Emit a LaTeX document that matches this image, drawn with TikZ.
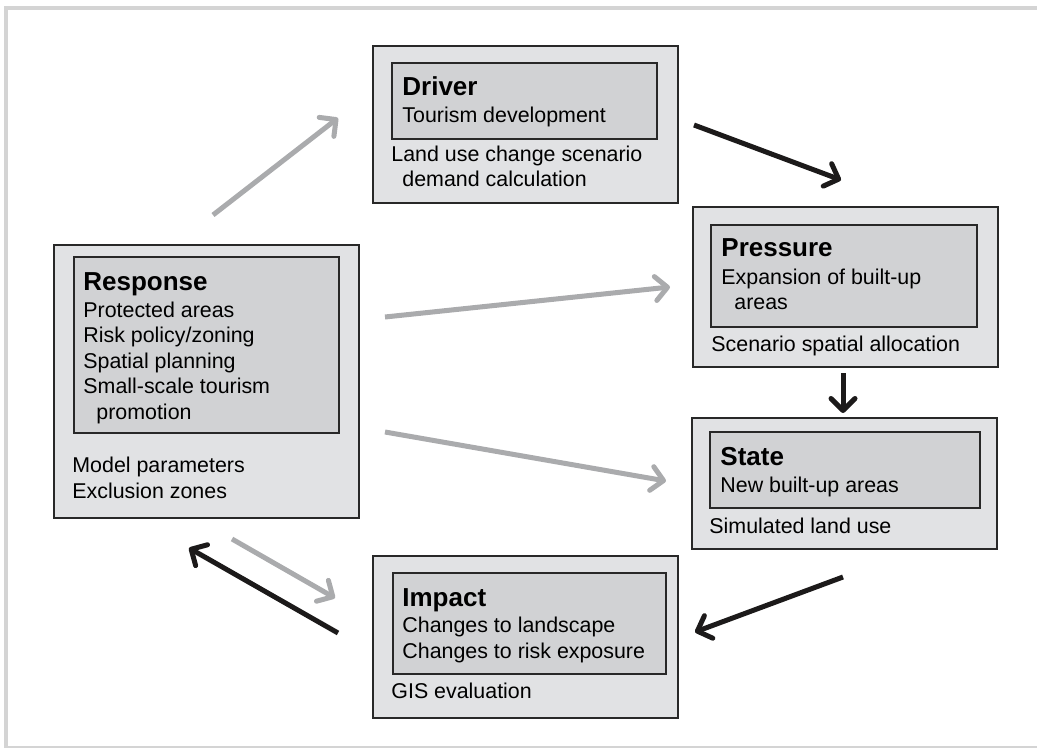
\documentclass[tikz,border=0pt]{standalone}
\usepackage{fontspec}
\setmainfont{Liberation Sans}
\usetikzlibrary{positioning,arrows.meta}

\definecolor{outerfill}{RGB}{225,226,228}
\definecolor{innerfill}{RGB}{209,210,212}
\definecolor{boxline}{RGB}{40,40,40}
\definecolor{arrowdark}{RGB}{28,26,26}
\definecolor{arrowlight}{RGB}{170,171,173}
\definecolor{framegray}{RGB}{212,212,212}

\tikzset{
    outerbox/.style={draw=boxline, line width=1pt, fill=outerfill, anchor=north west, inner sep=0pt},
    innerbox/.style={draw=boxline, line width=1pt, fill=innerfill, anchor=north west, inner sep=0pt},
    boxtitle/.style={font=\fontsize{13}{15.6}\selectfont\bfseries, anchor=base west, inner sep=0pt},
    boxtext/.style={font=\fontsize{10.7}{12.7}\selectfont, align=left, anchor=base west, inner sep=0pt},
    darkarrow/.style={line width=2.5pt, draw=arrowdark, -{Straight Barb[length=6pt,width=12pt,round]}},
    lightarrow/.style={darkarrow, draw=arrowlight},
}

\begin{document}
\begin{tikzpicture}[x=0.5pt, y=-0.5pt]
    \useasboundingbox (0,0) rectangle (1037,748);
    \draw[framegray, line width=2pt] (6,748) -- (6,8) -- (1037,8);
    \draw[framegray, line width=1.5pt] (6,747) -- (1037,747);

    \node[outerbox, minimum width=152.5pt, minimum height=78.5pt] (driver) at (372,45) {};
    \node[innerbox, minimum width=132.5pt, minimum height=38pt] (driverIn) at (391,62) {};
    \node[boxtitle] (driverTitle) at (402,96) {Driver};
    \node[boxtext] (driverText) at (402,123) {Tourism development};
    \node[boxtext] (driverFoot) at (391,187) {Land use change scenario\\\hspace*{5.5pt}demand calculation};

    \node[outerbox, minimum width=152.5pt, minimum height=80pt] (pressure) at (692,206) {};
    \node[innerbox, minimum width=133pt, minimum height=51pt] (pressureIn) at (710,224) {};
    \node[boxtitle] (pressureTitle) at (721,257) {Pressure};
    \node[boxtext] (pressureText) at (721,310) {Expansion of built-up\\\hspace*{6.5pt}areas};
    \node[boxtext] (pressureFoot) at (711,351) {Scenario spatial allocation};

    \node[outerbox, minimum width=152.5pt, minimum height=65.5pt] (state) at (691,417) {};
    \node[innerbox, minimum width=135pt, minimum height=38pt] (stateIn) at (709,431) {};
    \node[boxtitle] (stateTitle) at (720,465) {State};
    \node[boxtext] (stateText) at (720,492) {New built-up areas};
    \node[boxtext] (stateFoot) at (709,533) {Simulated land use};

    \node[outerbox, minimum width=152.5pt, minimum height=81pt] (impact) at (372,555) {};
    \node[innerbox, minimum width=136.5pt, minimum height=50.5pt] (impactIn) at (392,572) {};
    \node[boxtitle] (impactTitle) at (402,606) {Impact};
    \node[boxtext] (impactText) at (402,658) {Changes to landscape\\Changes to risk exposure};
    \node[boxtext] (impactFoot) at (391,698) {GIS evaluation};

    \node[outerbox, minimum width=152.5pt, minimum height=136.5pt] (response) at (53,244) {};
    \node[innerbox, minimum width=132.5pt, minimum height=88pt] (responseIn) at (73,256) {};
    \node[boxtitle] (responseTitle) at (83,291) {Response};
    \node[boxtext] (responseText) at (83,419) {Protected areas\\Risk policy/zoning\\Spatial planning\\Small-scale tourism\\\hspace*{6.5pt}promotion};
    \node[boxtext] (responseFoot) at (72,498) {Model parameters\\Exclusion zones};

    \coordinate (r2dA) at (213,215);
    \coordinate (r2dB) at (338,118);
    \coordinate (d2pA) at (694,125);
    \coordinate (d2pB) at (841,180);
    \coordinate (r2pA) at (385,317);
    \coordinate (r2pB) at (670,287);
    \coordinate (p2sA) at (843,373);
    \coordinate (p2sB) at (843,413);
    \coordinate (r2sA) at (385,432);
    \coordinate (r2sB) at (666,481);
    \coordinate (s2iA) at (843,577);
    \coordinate (s2iB) at (695,632);
    \coordinate (r2iA) at (232,539);
    \coordinate (r2iB) at (335,598);
    \coordinate (i2rA) at (338,633);
    \coordinate (i2rB) at (189,548);

    \draw[lightarrow] (r2dA) -- (r2dB);
    \draw[darkarrow] (d2pA) -- (d2pB);
    \draw[lightarrow] (r2pA) -- (r2pB);
    \draw[darkarrow] (p2sA) -- (p2sB);
    \draw[lightarrow] (r2sA) -- (r2sB);
    \draw[darkarrow] (s2iA) -- (s2iB);
    \draw[lightarrow] (r2iA) -- (r2iB);
    \draw[darkarrow] (i2rA) -- (i2rB);
\end{tikzpicture}
\end{document}
